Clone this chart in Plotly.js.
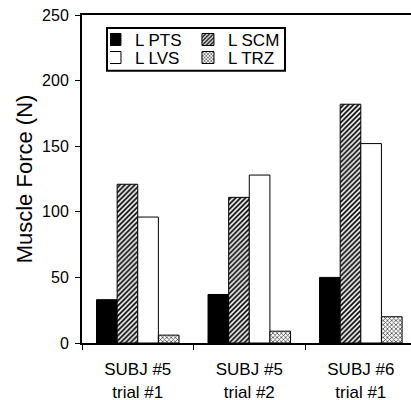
<!DOCTYPE html>
<html><head><meta charset="utf-8">
<script src="https://cdn.plot.ly/plotly-3.0.1.min.js"></script>
<style>html,body{margin:0;padding:0;background:#fff}#chart{width:411px;height:400px}</style>
</head><body><div id="chart"></div>
<script>
const categories = ["SUBJ #5<br>trial #1", "SUBJ #5<br>trial #2", "SUBJ #6<br>trial #1"];
const seriesNames = ["L PTS", "L SCM", "L LVS", "L TRZ"];
const ptsValues = [33, 37, 50];
const scmValues = [121, 111, 182];
const lvsValues = [96, 128, 152];
const trzValues = [6, 9, 20];
const yTicks = [0, 50, 100, 150, 200, 250];

const font = "Liberation Sans, Arial, sans-serif";
const line = {color: "#000", width: 1};
const traces = [
  {name: seriesNames[0], x: categories, y: ptsValues, type: "bar", legend: "legend",
   marker: {color: "#000", line: line}},
  {name: seriesNames[1], x: categories, y: scmValues, type: "bar", legend: "legend",
   marker: {color: "#fff", line: line, pattern: {shape: "/", fgcolor: "#000", bgcolor: "#fff", size: 3.5, solidity: 0.5}}},
  {name: seriesNames[2], x: categories, y: lvsValues, type: "bar", legend: "legend2",
   marker: {color: "#fff", line: line}},
  {name: seriesNames[3], x: categories, y: trzValues, type: "bar", legend: "legend2",
   marker: {color: "#fff", line: line, pattern: {shape: "x", fgcolor: "#333", bgcolor: "#fff", size: 3, solidity: 0.4}}}
];
const legendCommon = {xanchor: "left", yanchor: "middle", orientation: "h",
  borderwidth: 0, bgcolor: "rgba(0,0,0,0)",
  font: {family: font, size: 17, color: "#000"},
  entrywidth: 63, entrywidthmode: "pixels", itemwidth: 30, indentation: -15, tracegroupgap: 0};
const layout = {
  width: 411, height: 400,
  margin: {l: 82, r: 0, t: 15, b: 57},
  paper_bgcolor: "#fff", plot_bgcolor: "#fff",
  barmode: "group", bargap: 0.26, bargroupgap: 0,
  font: {family: font, color: "#000", size: 16},
  showlegend: true,
  legend: Object.assign({x: 0.085, y: 0.924}, legendCommon),
  legend2: Object.assign({x: 0.085, y: 0.869}, legendCommon),
  shapes: [{type: "rect", xref: "paper", yref: "paper", x0: 0.076, x1: 0.617, y0: 0.830, y1: 0.960,
    line: {color: "#000", width: 2}, fillcolor: "#fff", layer: "above"}],
  xaxis: {type: "category", range: [-0.5, 2.45], showline: true, linecolor: "#000", linewidth: 2,
    mirror: true, ticks: "outside", tickson: "boundaries", ticklen: 5, tickcolor: "#000",
    ticklabelstandoff: 10,
    tickfont: {family: font, size: 17}, showgrid: false, zeroline: false},
  yaxis: {range: [0, 250], tickvals: yTicks, showline: true, linecolor: "#000", linewidth: 2,
    ticks: "outside", ticklen: 5, tickcolor: "#000", showgrid: false, zeroline: false,
    ticklabelstandoff: 3,
    tickfont: {family: font, size: 16},
    title: {text: "Muscle Force (N)", font: {family: font, size: 22}, standoff: 3}}
};
Plotly.newPlot("chart", traces, layout, {displayModeBar: false, staticPlot: true});
</script></body></html>
